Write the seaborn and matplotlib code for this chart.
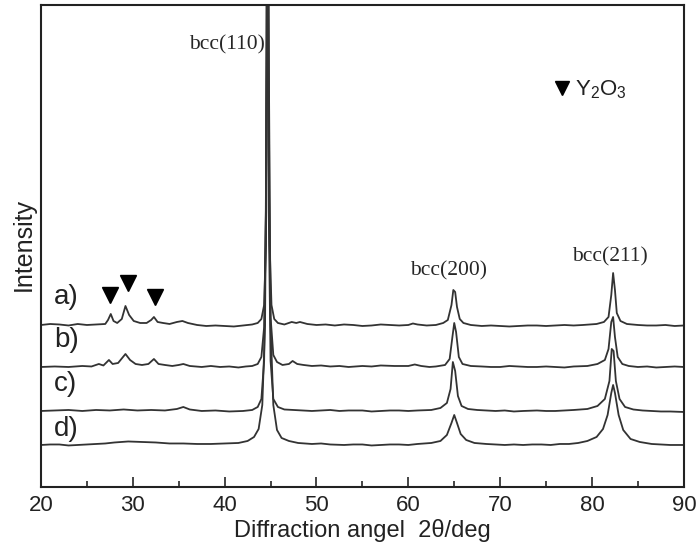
import numpy as np
import pandas as pd
import matplotlib
matplotlib.use("Agg")
import matplotlib.pyplot as plt
import seaborn as sns
from matplotlib.ticker import MultipleLocator

# XRD traces: angle (deg) and intensity above each baseline (a.u.)
angle_a = [20, 21, 22, 23, 24, 25, 26, 27, 27.3, 27.6, 27.9, 28.3, 28.8, 29.2, 29.6, 30.1,
           30.8, 31.5, 32.0, 32.3, 32.7, 33.3, 34.0, 34.8, 35.4, 36.0, 37, 38, 39, 40, 41,
           42, 43, 43.6, 44.0, 44.3, 44.5, 44.6, 44.7, 44.8, 44.9, 45.1, 45.4, 45.8, 46.5,
           47.3, 47.8, 48.2, 49, 50, 51, 52, 53, 54, 55, 56, 57, 58, 59, 60, 60.5, 61, 62,
           63, 63.8, 64.3, 64.7, 64.9, 65.1, 65.3, 65.6, 66.0, 66.8, 68, 69, 70, 71, 72, 73,
           74, 75, 76, 77, 78, 79, 80.5, 81.3, 81.8, 82.1, 82.3, 82.5, 82.7, 83.1, 83.8, 85,
           86, 87, 88, 89, 90]
int_a = [0, 1, 0.5, -0.5, 1, 0, 0.5, 1, 5, 11, 4, 2, 6, 19, 10, 4,
         2, 2, 5, 8, 3, 2, 1, 3, 4, 2, 0, -1, -0.5, -1, -1.5,
         -0.5, 0.5, 2, 6, 20, 80, 250, 600, 250, 80, 20, 6, 2, 0.5,
         3, 2, 3, 1, 0, 0.5, -0.5, 0.5, 0, -1, -0.5, 0.5, 0, -0.5, 0, 1.5, 0.5, -0.5,
         0, 2, 5, 20, 35, 33, 18, 6, 2, 0, -1, -0.5, -1, -1.5, -1, -0.5,
         -0.5, -1, -0.5, 0, -0.5, 0, 1, 3, 8, 30, 52, 35, 12, 4, 1, 0,
         -0.5, -0.5, 0, -1, -0.5]

angle_b = [20, 21.5, 23, 24.5, 25.5, 26.3, 26.8, 27.4, 27.8, 28.4, 29.2, 29.7, 30.3, 31, 31.7,
           32.3, 32.8, 33.5, 34.3, 35.0, 35.5, 36.2, 37.5, 38.5, 39.5, 40.5, 41.5, 42.3, 43,
           43.6, 44.0, 44.3, 44.5, 44.65, 44.8, 45.0, 45.3, 45.7, 46.3, 47.0, 47.4, 47.9, 48.6,
           49.5, 50.5, 51.5, 52.5, 53.5, 55, 56, 57, 58.5, 60.0, 60.7, 61.4, 62.3, 63, 64,
           64.5, 64.8, 65.0, 65.2, 65.5, 65.9, 66.8, 68, 69, 70, 71, 72, 73, 74, 75, 76, 77,
           78, 79.5, 80.6, 81.4, 81.8, 82.1, 82.3, 82.5, 82.8, 83.3, 84, 85, 86, 87, 88, 89, 90]
int_b = [0, 0.5, 0, 1, 0.5, 3, 1.5, 7, 3, 4, 13, 7, 3, 2, 3,
         8, 3, 2, 1, 2, 3, 1, 0, 1, 0, 0.5, -0.5, 0.5, 1,
         3, 10, 40, 160, 600, 200, 50, 12, 5, 2, 3, 6, 3, 2,
         1, 1.5, 0.5, 1, 0, 1, 0.5, 1.5, 1, 1, 2.5, 1, 0, 0.5, 2,
         8, 30, 44, 35, 10, 3, 1, 0.5, 0, 0, 1, 0.5, 0, 0, 0.5, 0, -0.5,
         0.5, 1, 3, 7, 18, 45, 50, 30, 10, 3, 1, 0, 0.5, -0.5, 0, 0.5, 0]

angle_c = [20, 21.5, 23, 24.5, 26, 27.5, 29, 30.5, 32, 33.5, 34.8, 35.5, 36.2, 37.5, 39, 40.5,
           42, 43, 43.6, 44.0, 44.3, 44.5, 44.65, 44.8, 45.0, 45.3, 45.8, 46.5, 47.5, 48.5,
           49.5, 50.5, 51.5, 52.5, 53.5, 55, 56, 57, 58, 59, 60, 61, 62.5, 63.5, 64.2, 64.6,
           64.85, 65.1, 65.4, 65.8, 66.5, 67.5, 68.5, 69.5, 70.5, 71.5, 72.5, 74, 75, 76, 77,
           78, 79.5, 80.6, 81.4, 81.9, 82.15, 82.35, 82.6, 83.0, 83.6, 84.5, 85.5, 86.5, 87.5,
           88.5, 90]
int_c = [0, 0.5, 1, 0, 1, 0.5, 1.5, 0.5, 1, 0.5, 2, 4, 1.5, 0, 0.5, -0.5,
         0, 1, 4, 12, 50, 200, 600, 200, 50, 12, 4, 1.5, 1, 0.5,
         0, 0.5, 1, 0, 0.5, 0.5, -0.5, 0, 0.5, 0.5, 0, 0.5, 1, 3, 8, 22,
         49, 40, 15, 5, 2, 1, 0.5, 0, 0.5, -0.5, 0, 0.5, 0, 0, 0.5,
         1, 2, 5, 12, 30, 62, 60, 30, 12, 4, 1.5, 0.5, 0, -0.5,
         -0.5, -1]

angle_d = [20, 21, 22, 23, 24, 25, 26, 27, 28, 29.5, 31, 32.5, 34, 35.5, 37, 38.5, 40, 41.5,
           42.5, 43.2, 43.7, 44.1, 44.4, 44.6, 44.7, 44.8, 45.0, 45.3, 45.7, 46.2, 47, 48,
           49.5, 50.5, 51.5, 53, 54, 55, 56, 57, 58, 59, 60, 61, 62.5, 63.5, 64.2, 64.7, 65.0,
           65.3, 65.7, 66.3, 67.2, 68.5, 69.5, 70.5, 71.5, 72.5, 73.5, 74.5, 75.5, 76.5,
           77.5, 78.5, 79.5, 80.5, 81.2, 81.7, 82.1, 82.3, 82.5, 82.9, 83.4, 84.2, 85.2, 86.5,
           87.5, 88.5, 90]
int_d = [0, 0.5, 0.5, -0.5, 0, 0.5, 1, 1.5, 2.5, 3.5, 3, 2.5, 1.5, 1.5, 1, 1, 1.5, 2,
         4, 8, 16, 40, 120, 400, 600, 400, 120, 40, 15, 7, 4, 2,
         1, 1.5, 0.5, 0, 0.5, 0.5, -0.5, 0, 0.5, 0.5, 0, 1, 2, 4, 10, 22, 30,
         22, 11, 5, 2, 1, 0.5, 0, 0.5, 0, 0.5, 0.5, 0, 1,
         1, 2, 4, 8, 16, 30, 52, 60, 52, 30, 15, 6, 3, 1,
         0.5, 0, 0]

samples = ["a)", "b)", "c)", "d)"]
baselines = [162, 120, 76, 42]

# Y2O3 markers and reflection labels
y2o3_angles = [27.5, 29.45, 32.4]
y2o3_heights = [192, 204, 190]
bcc_labels = ["bcc(110)", "bcc(200)", "bcc(211)"]

frames = []
for name, base, xs, ys in zip(samples, baselines,
                              [angle_a, angle_b, angle_c, angle_d],
                              [int_a, int_b, int_c, int_d]):
    frames.append(pd.DataFrame({"angle": xs,
                                "intensity": np.array(ys) + base,
                                "sample": name}))
df = pd.concat(frames, ignore_index=True)

sns.set_style("ticks")
plt.rcParams["font.family"] = ["Liberation Sans", "DejaVu Sans"]
plt.rcParams["mathtext.fontset"] = "custom"
plt.rcParams["mathtext.rm"] = "Liberation Sans"
plt.rcParams["mathtext.it"] = "Liberation Sans:italic"

fig = plt.figure(figsize=(6.98, 5.51), dpi=100)
ax = fig.add_axes([0.0587, 0.1162, 0.921, 0.8747])

sns.lineplot(data=df, x="angle", y="intensity", hue="sample", units="sample",
             estimator=None, sort=False, palette=["#333333"] * 4, lw=1.3,
             legend=False, ax=ax)

ax.set_xlim(20, 90)
ax.set_ylim(0, 482)
ax.xaxis.set_major_locator(MultipleLocator(10))
ax.xaxis.set_minor_locator(MultipleLocator(5))
ax.tick_params(axis="x", which="major", direction="in", length=7, width=1.2,
               labelsize=16, pad=6, labelcolor="#222222")
ax.tick_params(axis="x", which="minor", direction="in", length=4, width=1.2)
ax.set_yticks([])
for sp in ax.spines.values():
    sp.set_visible(True)
    sp.set_linewidth(1.5)
    sp.set_color("#222222")

ax.set_xlabel("Diffraction angel  2θ/deg", fontsize=17, labelpad=2, color="#222222")
ax.set_ylabel("Intensity", fontsize=18, color="#222222")
ax.yaxis.set_label_coords(-0.008, 0.504)

# sample labels
label_y = [190, 147, 103, 58]
for name, ly in zip(samples, label_y):
    ax.text(21.4, ly, name, fontsize=20, va="center", ha="left", color="#222222")

# Y2O3 markers
ax.plot(y2o3_angles, y2o3_heights, linestyle="none", marker="v", ms=11,
        color="black")
ax.plot([76.7], [399], linestyle="none", marker="v", ms=10, color="black")
ax.text(78.2, 397, "Y$_2$O$_3$", fontsize=16, va="center", ha="left", color="#222222")

serif = ["Liberation Serif", "DejaVu Serif"]
ax.text(44.37, 442, bcc_labels[0], fontsize=15.5, ha="right", va="center", family=serif)
ax.text(64.4, 216, bcc_labels[1], fontsize=15.5, ha="center", va="center", family=serif)
ax.text(81.9, 230, bcc_labels[2], fontsize=15.5, ha="center", va="center", family=serif)

fig.savefig("out.png", dpi=100)
